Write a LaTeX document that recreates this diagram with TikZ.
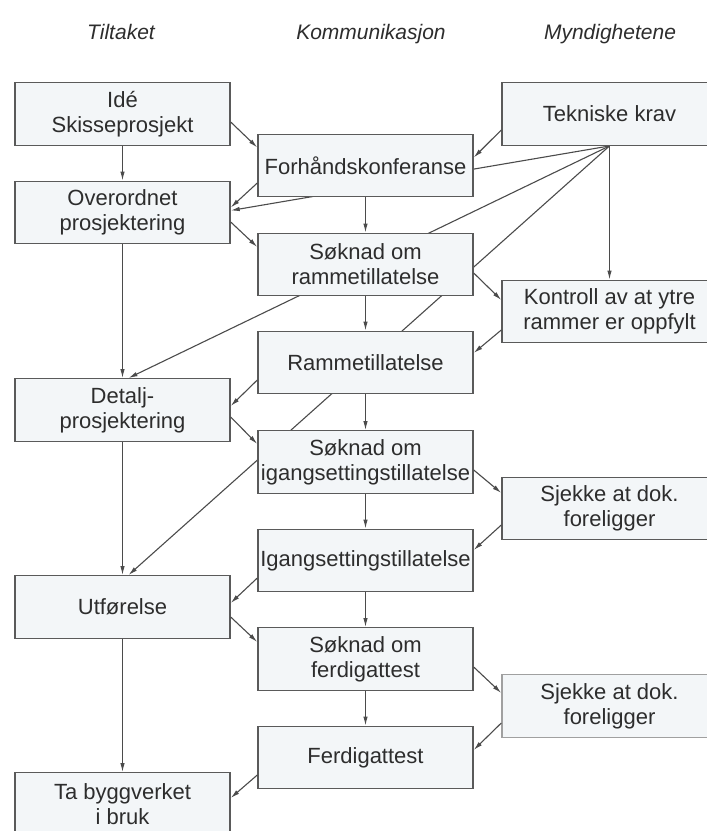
\documentclass[tikz,border=0pt]{standalone}
\usepackage{fontspec}
\setmainfont{Liberation Sans}
\definecolor{boxfill}{RGB}{243,246,248}
\definecolor{boxline}{RGB}{90,90,90}
\definecolor{lightline}{RGB}{160,160,160}
\definecolor{linegray}{RGB}{75,75,75}
\definecolor{txt}{RGB}{45,45,45}
\usetikzlibrary{arrows.meta,backgrounds}

\tikzset{
  box/.style={draw=boxline, fill=boxfill, line width=1.4pt, minimum width=215pt,
    minimum height=62.5pt, inner xsep=0pt, inner ysep=2pt, align=center,
    font=\fontsize{22}{25}\selectfont, text=txt},
  head/.style={font=\fontsize{21}{25}\selectfont\itshape, text=txt, anchor=base},
  flow/.style={draw=linegray, line width=1.1pt, -{Latex[length=9pt,width=4.5pt]}}
}

\begin{document}
\begin{tikzpicture}[x=1pt,y=-1pt]
    \useasboundingbox (0,0) rectangle (707,831);
    % column heads
    \node [head] (ht) at (121,39) {Tiltaket};
    \node [head] (hk) at (371,39) {Kommunikasjon};
    \node [head] (hm) at (610,39) {Myndighetene};
    % left column
    \node [box] (ide) at (122.5,114) {Idé\\Skisseprosjekt};
    \node [box] (ovp) at (122.5,212.5) {Overordnet\\prosjektering};
    \node [box] (dpr) at (122.5,410) {Detalj-\\prosjektering};
    \node [box] (utf) at (122.5,607) {Utførelse};
    \node [box] (tab) at (122.5,804) {Ta byggverket\\i bruk};
    % middle column
    \node [box] (fhk) at (365.5,165.5) {Forhåndskonferanse};
    \node [box] (srt) at (365.5,264.5) {Søknad om\\rammetillatelse};
    \node [box] (rtl) at (365.5,362.5) {Rammetillatelse};
    \node [box] (sit) at (365.5,462) {Søknad om\\igangsettingstillatelse};
    \node [box] (itl) at (365.5,560.5) {Igangsettingstillatelse};
    \node [box] (sft) at (365.5,659) {Søknad om\\ferdigattest};
    \node [box] (fat) at (365.5,757.5) {Ferdigattest};
    % right column
    \node [box] (tkr) at (609.5,114) {Tekniske krav};
    \node [box] (kor) at (609.5,311.5) {Kontroll av at ytre\\rammer er oppfylt};
    \node [box] (sj1) at (609.5,508.5) {Sjekke at dok.\\foreligger};
    \node [box,draw=lightline] (sj2) at (609.5,706) {Sjekke at dok.\\foreligger};

    % lines from the requirements run behind the boxes
    \begin{pgfonlayer}{background}
    \draw [flow] (tkr.south) -- ([yshift=2pt]ovp.east);
    \draw [flow] (tkr.south) -- ([xshift=6pt]dpr.north);
    \draw [flow] (tkr.south) -- ([xshift=6pt]utf.north);
    \end{pgfonlayer}
    \draw [flow] (tkr.south) -- (kor.north);
    \draw [flow] ([yshift=-16pt]tkr.west) -- ([yshift=8pt]fhk.east);

    % straight down
    \draw [flow] (ide) -- (ovp);
    \draw [flow] (ovp) -- (dpr);
    \draw [flow] (dpr) -- (utf);
    \draw [flow] (utf) -- (tab);
    \draw [flow] (fhk) -- (srt);
    \draw [flow] (srt) -- (rtl);
    \draw [flow] (rtl) -- (sit);
    \draw [flow] (sit) -- (itl);
    \draw [flow] (itl) -- (sft);
    \draw [flow] (sft) -- (fat);

    % across
    \draw [flow] ([yshift=-8pt]ide.east) -- ([yshift=18pt]fhk.west);
    \draw [flow] ([yshift=-17.5pt]fhk.west) -- ([yshift=5pt]ovp.east);
    \draw [flow] ([yshift=-9.5pt]ovp.east) -- ([yshift=17.5pt]srt.west);
    \draw [flow] ([yshift=-8.5pt]srt.east) -- ([yshift=11.5pt]kor.west);
    \draw [flow] ([yshift=-18.5pt]kor.west) -- ([yshift=9.5pt]rtl.east);
    \draw [flow] ([yshift=-17.5pt]rtl.west) -- ([yshift=4pt]dpr.east);
    \draw [flow] ([yshift=-7pt]dpr.east) -- ([yshift=18pt]sit.west);
    \draw [flow] ([yshift=-8pt]sit.east) -- ([yshift=15.5pt]sj1.west);
    \draw [flow] ([yshift=-16.5pt]sj1.west) -- ([yshift=10.5pt]itl.east);
    \draw [flow] ([yshift=-17.5pt]itl.west) -- ([yshift=4pt]utf.east);
    \draw [flow] ([yshift=-10pt]utf.east) -- ([yshift=17pt]sft.west);
    \draw [flow] ([yshift=-8pt]sft.east) -- ([yshift=13pt]sj2.west);
    \draw [flow] ([yshift=-17pt]sj2.west) -- ([yshift=7.5pt]fat.east);
    \draw [flow] ([yshift=-17.5pt]fat.west) -- ([yshift=6pt]tab.east);
\end{tikzpicture}
\end{document}
